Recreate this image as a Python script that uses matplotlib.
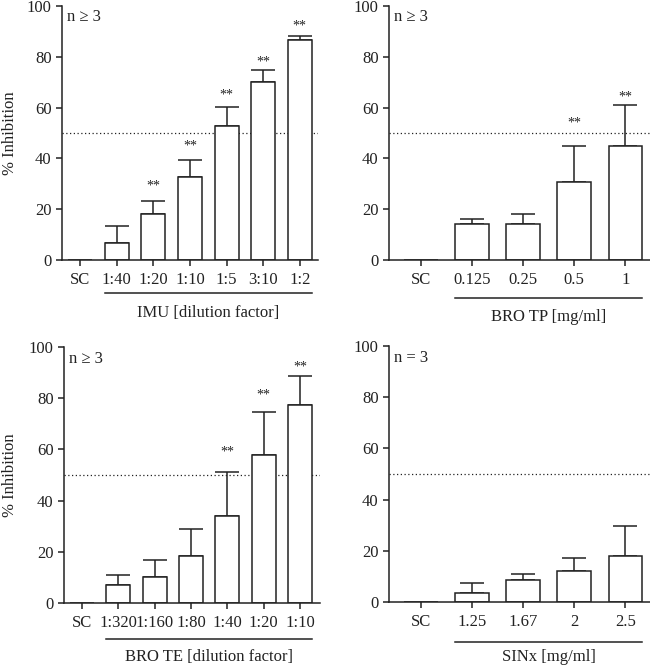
import matplotlib
matplotlib.use("Agg")
import matplotlib.pyplot as plt
import matplotlib.transforms as mtransforms
import numpy as np

plt.rcParams['font.family'] = ['Liberation Serif', 'DejaVu Serif']
plt.rcParams['font.size'] = 12

# данные
imu_labels = ["SC", "1:40", "1:20", "1:10", "1:5", "3:10", "1:2"]
imu_mean = [0, 6.7, 18.1, 32.8, 52.7, 70.1, 86.5]
imu_err = [0, 6.8, 5.0, 6.5, 7.6, 4.7, 1.6]
imu_stars = [None, None, 29.2, 44.7, 65.0, 78.0, 92.1]

tp_labels = ["SC", "0.125", "0.25", "0.5", "1"]
tp_mean = [0, 14.0, 14.0, 30.7, 44.8]
tp_err = [0, 2.3, 4.2, 14.0, 16.4]
tp_stars = [None, None, None, 53.8, 64.1]

te_labels = ["SC", "1:320", "1:160", "1:80", "1:40", "1:20", "1:10"]
te_mean = [0, 7.2, 10.2, 18.3, 34.1, 57.8, 77.4]
te_err = [0, 3.9, 6.5, 10.6, 17.2, 17.0, 11.2]
te_stars = [None, None, None, None, 59.1, 81.3, 92.2]

sin_labels = ["SC", "1.25", "1.67", "2", "2.5"]
sin_mean = [0, 3.7, 8.7, 12.1, 18.0]
sin_err = [0, 3.7, 2.3, 4.9, 11.6]
sin_stars = [None, None, None, None, None]

fig = plt.figure(figsize=(6.5, 6.65), dpi=100)
W, H = 650.0, 665.0


def make_ax(x0, x1, y_top, y_bot):
    return fig.add_axes([x0 / W, 1 - y_bot / H, (x1 - x0) / W, (y_bot - y_top) / H])


def panel(ax, labels, mean, err, stars, nlabel, group, xlim, line_dy, text_dy, ylab):
    ink = "#222222"
    x = np.arange(len(labels))
    ax.bar(x, mean, width=0.66, color="white", edgecolor=ink, linewidth=1.1, zorder=2)
    for xi, m, e in zip(x, mean, err):
        if e > 0:
            ax.errorbar([xi], [m], yerr=[[0], [e]], fmt="none", ecolor=ink,
                        elinewidth=1.1, capsize=8.5, capthick=1.1, zorder=1)
    for xi, s in zip(x, stars):
        if s is not None:
            ax.text(xi, s, "**", ha="center", va="center", fontsize=10, color=ink)
    ax.axhline(50, color=ink, linestyle=(0, (1, 2)), linewidth=0.9, zorder=0)
    ax.set_xlim(*xlim)
    ax.set_ylim(0, 100)
    ax.set_yticks([0, 20, 40, 60, 80, 100])
    ax.set_xticks(x)
    ax.set_xticklabels(labels)
    for s in ["top", "right"]:
        ax.spines[s].set_visible(False)
    for s in ["left", "bottom"]:
        ax.spines[s].set_color(ink)
        ax.spines[s].set_linewidth(1.1)
    ax.tick_params(axis="both", direction="out", length=4.5, width=1.1, color=ink,
                   labelsize=12, labelcolor=ink)
    ax.tick_params(axis="x", pad=4)
    ax.tick_params(axis="y", pad=3)
    ax.text(0.02, 0.955, nlabel, transform=ax.transAxes,
            ha="left", va="center", fontsize=12, color=ink)
    if ylab:
        ax.set_ylabel("% Inhibition", fontsize=12, color=ink)
        ax.yaxis.set_label_coords(ylab, 0.5)
    # подпись группы под осью
    base = mtransforms.blended_transform_factory(ax.transData, ax.transAxes)
    tl = base + mtransforms.ScaledTranslation(0, -line_dy / 100, fig.dpi_scale_trans)
    ax.plot([1 - 0.33, len(labels) - 1 + 0.33], [0, 0], color=ink, linewidth=1.1,
            transform=tl, clip_on=False)
    tt = base + mtransforms.ScaledTranslation(0, -text_dy / 100, fig.dpi_scale_trans)
    ax.text((1 + len(labels) - 1) / 2, 0, group, transform=tt, ha="center",
            va="center", fontsize=12, color=ink)


ax1 = make_ax(62, 318, 6, 260)
panel(ax1, imu_labels, imu_mean, imu_err, imu_stars, "n ≥ 3",
      "IMU [dilution factor]", (-0.5, 6.5), 33, 53, -0.17)

ax2 = make_ax(389, 650, 6, 260)
panel(ax2, tp_labels, tp_mean, tp_err, tp_stars, "n ≥ 3",
      "BRO TP [mg/ml]", (-0.62, 4.48), 38, 57, None)

ax3 = make_ax(64, 320, 347, 603)
panel(ax3, te_labels, te_mean, te_err, te_stars, "n ≥ 3",
      "BRO TE [dilution factor]", (-0.5, 6.55), 36, 54, -0.18)

ax4 = make_ax(389, 650, 346, 602)
panel(ax4, sin_labels, sin_mean, sin_err, sin_stars, "n = 3",
      "SINx [mg/ml]", (-0.62, 4.48), 40, 55, None)

fig.savefig("out.png", dpi=100)
